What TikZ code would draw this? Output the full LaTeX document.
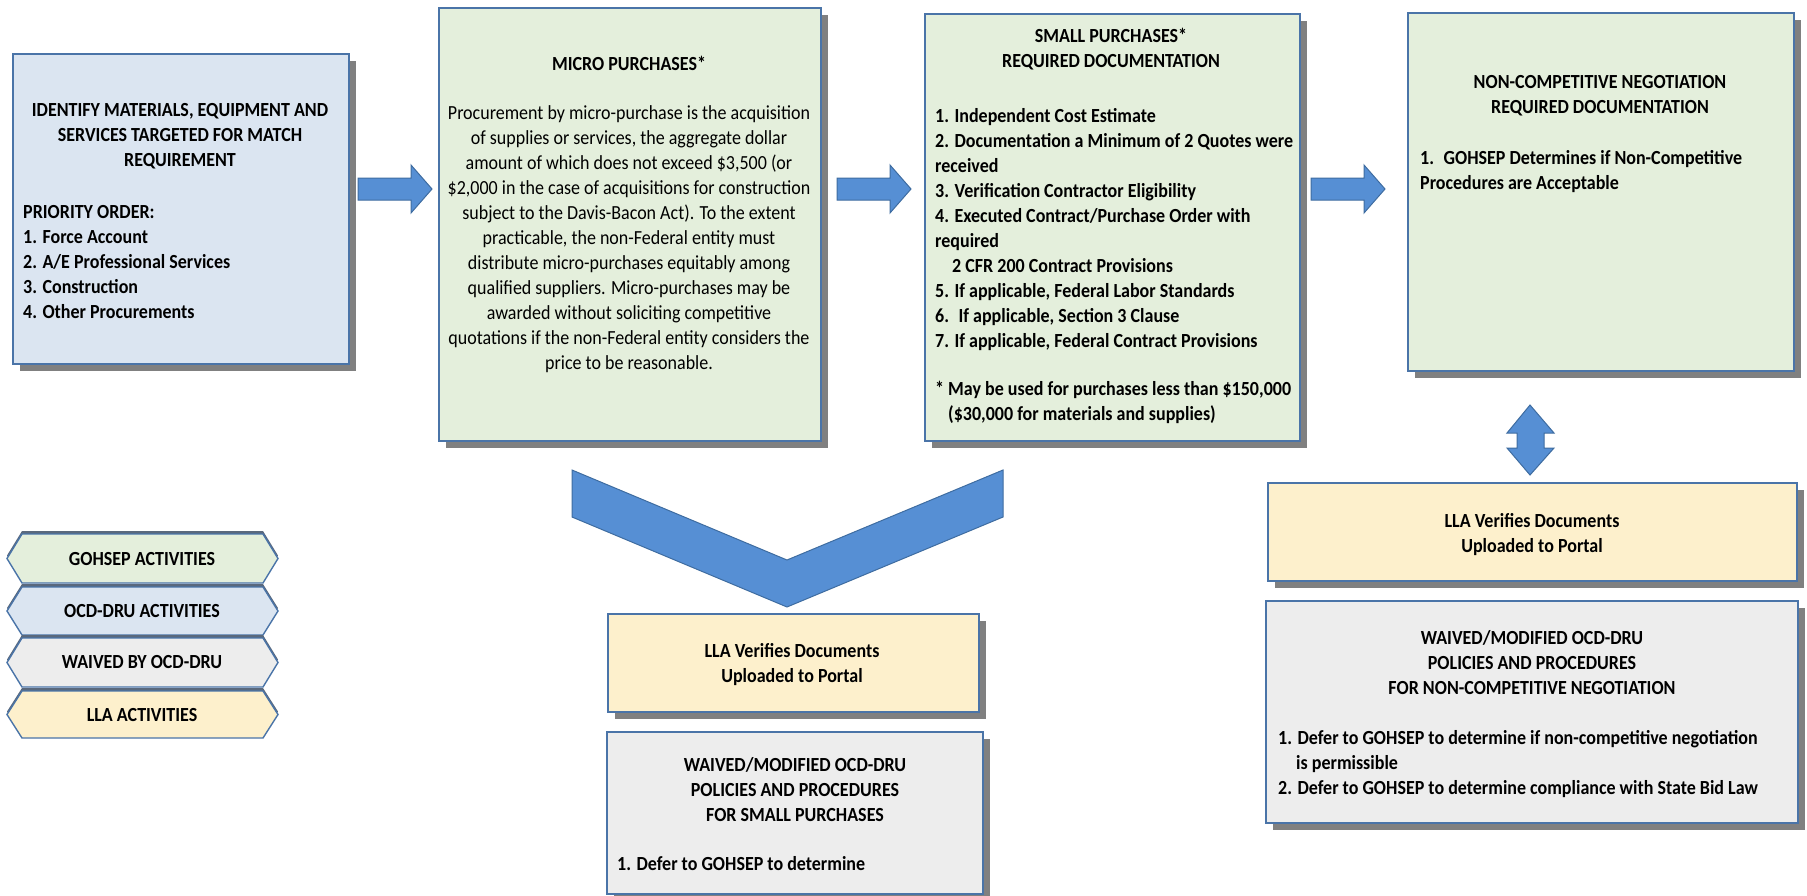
\documentclass[tikz,border=0pt]{standalone}
\usepackage{fontspec}
\setmainfont{Carlito}[FakeStretch=0.9]
\usetikzlibrary{shadows}
\definecolor{bfill}{RGB}{219,229,241}
\definecolor{gfill}{RGB}{228,239,220}
\definecolor{yfill}{RGB}{253,240,204}
\definecolor{wfill}{RGB}{237,237,237}
\definecolor{bord}{RGB}{74,116,168}
\definecolor{shad}{RGB}{128,128,128}
\definecolor{lshad}{RGB}{90,105,125}
\definecolor{afill}{RGB}{86,143,212}
\definecolor{aline}{RGB}{62,108,160}
\begin{document}
\begin{tikzpicture}[x=1pt,y=-1pt,
  box/.style={draw=bord, line width=1.6pt, anchor=north west, inner sep=0pt,
    drop shadow={shadow xshift=7pt, shadow yshift=-7pt, fill=shad, opacity=1}},
  txt/.style={font=\fontsize{20}{25}\selectfont\bfseries, inner sep=0pt},
  rtxt/.style={font=\fontsize{20}{25}\selectfont, inner sep=0pt},
  barrow/.style={fill=afill, draw=aline, line width=1pt},
  legend/.style={draw=bord, line width=1.4pt,
    drop shadow={shadow xshift=0pt, shadow yshift=3pt, fill=lshad, opacity=1}}]
\useasboundingbox (0,0) rectangle (1807,895);

% boxes
\node[box, fill=bfill, minimum width=336pt, minimum height=310pt] (b1) at (12,53) {};
\node[box, fill=gfill, minimum width=382pt, minimum height=433pt] (b2) at (438,7) {};
\node[box, fill=gfill, minimum width=375pt, minimum height=427pt] (b3) at (924,13) {};
\node[box, fill=gfill, minimum width=386pt, minimum height=358pt] (b4) at (1407,12) {};
\node[box, fill=yfill, minimum width=371pt, minimum height=98pt] (m1) at (607,613) {};
\node[box, fill=wfill, minimum width=376pt, minimum height=162pt] (m2) at (606,731) {};
\node[box, fill=yfill, minimum width=529pt, minimum height=98pt] (r1) at (1267,482) {};
\node[box, fill=wfill, minimum width=532pt, minimum height=222pt] (r2) at (1265,600) {};

% texts box 1
\node[txt, align=center, anchor=north] (t1a) at (180,103)
  {IDENTIFY MATERIALS, EQUIPMENT AND\\SERVICES TARGETED FOR MATCH\\REQUIREMENT};
\node[txt, align=left, anchor=north west] (t1b) at (23,205)
  {PRIORITY ORDER:\\1. Force Account\\2. A/E Professional Services\\3. Construction\\4. Other Procurements};

% box 2
\node[txt, anchor=north] (t2a) at (629,56) {MICRO PURCHASES*};
\node[rtxt, align=center, anchor=north] (t2b) at (629,105)
  {Procurement by micro-purchase is the acquisition\\
   of supplies or services, the aggregate dollar\\
   amount of which does not exceed \$3,500 (or\\
   \$2,000 in the case of acquisitions for construction\\
   subject to the Davis-Bacon Act). To the extent\\
   practicable, the non-Federal entity must\\
   distribute micro-purchases equitably among\\
   qualified suppliers. Micro-purchases may be\\
   awarded without soliciting competitive\\
   quotations if the non-Federal entity considers the\\
   price to be reasonable.};

% box 3
\node[txt, align=center, anchor=north] (t3a) at (1111,28) {SMALL PURCHASES*\\REQUIRED DOCUMENTATION};
\node[txt, align=left, anchor=north west] (t3b) at (935,108)
  {1. Independent Cost Estimate\\
   2. Documentation a Minimum of 2 Quotes were\\
   received\\
   3. Verification Contractor Eligibility\\
   4. Executed Contract/Purchase Order with\\
   required\\
   \hspace*{17pt}2 CFR 200 Contract Provisions\\
   5. If applicable, Federal Labor Standards\\
   6.~ If applicable, Section 3 Clause\\
   7. If applicable, Federal Contract Provisions};
\node[txt, align=left, anchor=north west] (t3c) at (935,381)
  {* May be used for purchases less than \$150,000\\
   \hspace*{13pt}(\$30,000 for materials and supplies)};

% box 4
\node[txt, align=center, anchor=north] (t4a) at (1600,75) {NON-COMPETITIVE NEGOTIATION\\REQUIRED DOCUMENTATION};
\node[txt, align=left, anchor=north west] (t4b) at (1420,150)
  {1.~ GOHSEP Determines if Non-Competitive\\Procedures are Acceptable};

% middle bottom
\node[txt, align=center, anchor=north] (tm1) at (792,643) {LLA Verifies Documents\\Uploaded to Portal};
\node[txt, align=center, anchor=north] (tm2a) at (795,757) {WAIVED/MODIFIED OCD-DRU\\POLICIES AND PROCEDURES\\FOR SMALL PURCHASES};
\node[txt, align=left, anchor=north west] (tm2b) at (617,856) {1. Defer to GOHSEP to determine};

% right bottom
\node[txt, align=center, anchor=north] (tr1) at (1532,513) {LLA Verifies Documents\\Uploaded to Portal};
\node[txt, align=center, anchor=north] (tr2a) at (1532,630) {WAIVED/MODIFIED OCD-DRU\\POLICIES AND PROCEDURES\\FOR NON-COMPETITIVE NEGOTIATION};
\node[txt, align=left, anchor=north west] (tr2b) at (1278,730)
  {1. Defer to GOHSEP to determine if non-competitive negotiation\\
   \hspace*{18pt}is permissible\\
   2. Defer to GOHSEP to determine compliance with State Bid Law};

% block arrows
\draw[barrow] (358,178) -- (411,178) -- (411,165) -- (432,189) -- (411,213) -- (411,200) -- (358,200) -- cycle;
\draw[barrow] (837,178) -- (890,178) -- (890,165) -- (911,189) -- (890,213) -- (890,200) -- (837,200) -- cycle;
\draw[barrow] (1311,178) -- (1364,178) -- (1364,165) -- (1385,189) -- (1364,213) -- (1364,200) -- (1311,200) -- cycle;
\draw[barrow] (1530,405) -- (1554,433) -- (1544,433) -- (1544,448) -- (1554,448) -- (1530,475)
   -- (1507,448) -- (1517,448) -- (1517,433) -- (1507,433) -- cycle;
\draw[barrow] (572,470) -- (787,560) -- (1003,470) -- (1003,517) -- (787,607) -- (572,517) -- cycle;

% legend
\foreach \t/\b/\c/\lab/\nm in {534/583/gfill/GOHSEP ACTIVITIES/lg1, 587/635/bfill/OCD-DRU ACTIVITIES/lg2,
    638/687/wfill/WAIVED BY OCD-DRU/lg3, 691/738/yfill/LLA ACTIVITIES/lg4}{
  \draw[legend, fill=\c] (7,{(\t+\b)/2}) -- (22,\t) -- (263,\t) -- (278,{(\t+\b)/2}) -- (263,\b) -- (22,\b) -- cycle;
  \node[txt] (\nm) at (142,{(\t+\b)/2}) {\lab};
}
\end{tikzpicture}
\end{document}
